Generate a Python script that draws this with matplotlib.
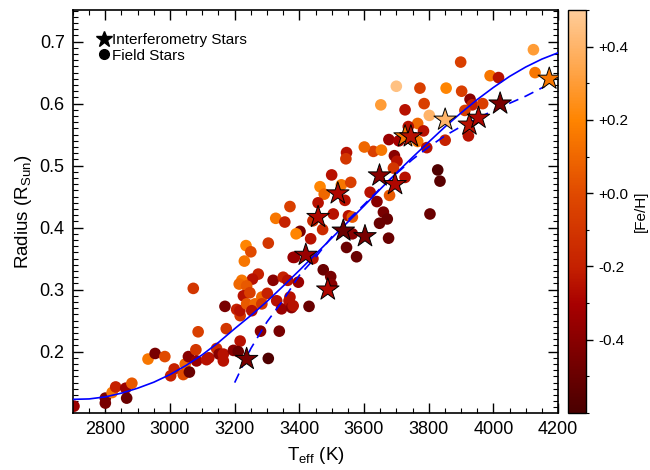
import matplotlib
matplotlib.use("Agg")
import matplotlib.pyplot as plt
import numpy as np
from matplotlib.colors import LinearSegmentedColormap, Normalize
from matplotlib.ticker import MultipleLocator
from matplotlib.lines import Line2D

plt.rcParams['font.family'] = ['Liberation Sans', 'DejaVu Sans']
plt.rcParams['mathtext.fontset'] = 'custom'
plt.rcParams['mathtext.rm'] = 'Liberation Sans'
plt.rcParams['mathtext.it'] = 'Liberation Sans'

# ---------------- data ----------------
field_teff = [2703, 2800, 2800, 2821, 2832, 2863, 2866, 2882, 2932, 2954,
              2984, 3002, 3013, 3041, 3047, 3057, 3060, 3080, 3082, 3087,
              3113, 3120, 3144, 3152, 3072, 3174, 3170, 3304, 3280, 3338,
              3304, 3235, 3250, 3230, 3371, 3327, 3355, 3402, 3390, 3381,
              3273, 3255, 3222, 3214, 3237, 3319, 3350, 3364, 3397, 3227,
              3247, 3284, 3301, 3206, 3217, 3216, 3237, 3263, 3253, 3284,
              3330, 3345, 3368, 3376, 3430, 3217, 3165, 3196, 3211, 3165,
              3546, 3544, 3500, 3464, 3477, 3530, 3559, 3458, 3505, 3442,
              3435, 3472, 3552, 3564, 3564, 3546, 3577, 3442, 3474, 3497,
              3500, 3371, 3381, 3619, 3640, 3660, 3648, 3672, 3676,
              3899, 3700, 3773, 3854, 3902, 3652, 3727, 3786, 3802, 3928,
              3935, 3766, 3737, 3784, 3677, 3708, 3766, 3794, 3851, 3629,
              3654, 3694, 3702, 3691, 3727, 3679, 3804, 3828, 3835, 3601,
              4124, 4129, 3990, 4016, 3967, 3912, 3923, 3541, 3385]
field_radius = [0.112, 0.125, 0.117, 0.134, 0.143, 0.141, 0.125, 0.149, 0.188, 0.197,
                0.192, 0.161, 0.172, 0.163, 0.180, 0.192, 0.167, 0.203, 0.185, 0.232,
                0.187, 0.190, 0.205, 0.196, 0.302, 0.237, 0.273, 0.189, 0.233, 0.233,
                0.375, 0.371, 0.361, 0.346, 0.434, 0.415, 0.409, 0.394, 0.390, 0.352,
                0.325, 0.317, 0.315, 0.309, 0.306, 0.315, 0.320, 0.315, 0.312, 0.290,
                0.295, 0.288, 0.294, 0.268, 0.258, 0.266, 0.277, 0.277, 0.266, 0.277,
                0.282, 0.269, 0.282, 0.271, 0.273, 0.217, 0.196, 0.202, 0.200, 0.185,
                0.521, 0.511, 0.485, 0.466, 0.454, 0.469, 0.473, 0.440, 0.422, 0.411,
                0.382, 0.397, 0.419, 0.417, 0.390, 0.368, 0.353, 0.350, 0.332, 0.321,
                0.308, 0.288, 0.274, 0.457, 0.442, 0.425, 0.407, 0.414, 0.383,
                0.667, 0.628, 0.625, 0.625, 0.620, 0.598, 0.590, 0.600, 0.581, 0.607,
                0.598, 0.568, 0.563, 0.556, 0.542, 0.540, 0.539, 0.529, 0.541, 0.523,
                0.525, 0.516, 0.507, 0.496, 0.481, 0.452, 0.422, 0.493, 0.475, 0.530,
                0.687, 0.650, 0.645, 0.642, 0.600, 0.589, 0.548, 0.444, 0.352]
field_feh = [-0.35, -0.45, -0.45, 0.15, -0.20, -0.35, -0.50, 0.05, 0.15, -0.45,
             0.00, -0.20, -0.20, 0.00, 0.10, -0.40, -0.50, -0.10, -0.35, -0.05,
             -0.25, -0.25, -0.15, -0.40, -0.10, -0.10, -0.45, -0.58, -0.40, -0.45,
             -0.10, 0.20, 0.00, 0.15, -0.05, 0.15, -0.20, -0.45, 0.20, -0.35,
             -0.20, -0.25, 0.15, 0.10, 0.05, -0.40, -0.20, -0.25, -0.35, -0.25,
             -0.05, 0.10, -0.20, -0.20, -0.10, -0.25, 0.05, 0.10, -0.25, -0.10,
             -0.25, -0.35, -0.25, -0.40, -0.50, -0.25, -0.25, -0.40, -0.50, -0.25,
             -0.25, -0.10, -0.25, 0.20, 0.10, 0.15, -0.05, -0.25, -0.25, -0.15,
             -0.25, -0.15, -0.25, 0.05, -0.40, -0.50, -0.50, -0.25, -0.50, -0.45,
             -0.40, -0.25, -0.25, -0.25, -0.40, -0.45, -0.50, -0.50, -0.50,
             -0.05, 0.45, -0.05, 0.20, -0.05, 0.30, -0.25, -0.05, 0.40, -0.40,
             -0.20, 0.10, -0.25, -0.25, -0.35, -0.30, 0.15, -0.25, -0.20, -0.05,
             0.15, -0.40, -0.25, -0.10, -0.25, 0.05, -0.50, -0.58, -0.55, 0.10,
             0.30, 0.15, 0.15, -0.25, -0.05, -0.05, -0.25, -0.25, -0.35]

interf_teff = [3237, 3420, 3458, 3488, 3519, 3536, 3603, 3648, 3696, 3727,
               3745, 3851, 3926, 3954, 4021, 4173]
interf_radius = [0.188, 0.356, 0.417, 0.300, 0.455, 0.395, 0.386, 0.484, 0.470, 0.547,
                 0.547, 0.574, 0.566, 0.577, 0.600, 0.640]
interf_feh = [-0.45, -0.35, -0.28, -0.28, -0.28, -0.50, -0.45, -0.40, -0.28, 0.15,
              -0.25, 0.40, -0.25, -0.28, -0.45, 0.15]

fit_teff = [2700, 2750, 2800, 2850, 2900, 2950, 3000, 3050, 3100, 3150,
            3200, 3250, 3300, 3350, 3400, 3450, 3500, 3550, 3600, 3650,
            3700, 3750, 3800, 3850, 3900, 3950, 4000, 4050, 4100, 4150, 4200]
fit_radius = [0.123, 0.1237, 0.127, 0.133, 0.141, 0.1507, 0.163, 0.1778, 0.195, 0.2148,
              0.237, 0.2583, 0.281, 0.3057, 0.331, 0.357, 0.383, 0.409, 0.435, 0.4619,
              0.488, 0.5134, 0.538, 0.5623, 0.585, 0.6065, 0.626, 0.6438, 0.659, 0.6718, 0.682]

dash_teff = [3200, 3250, 3300, 3350, 3400, 3450, 3500, 3550, 3600, 3650,
             3700, 3750, 3800, 3850, 3900, 4000, 4100, 4160]
dash_radius = [0.150, 0.205, 0.248, 0.283, 0.323, 0.352, 0.385, 0.412, 0.437, 0.463,
               0.487, 0.510, 0.530, 0.548, 0.563, 0.589, 0.612, 0.628]

cbar_ticks = [-0.4, -0.2, 0.0, 0.2, 0.4]
cbar_labels = ['-0.4', '-0.2', '+0.0', '+0.2', '+0.4']

# ---------------- style ----------------
cmap = LinearSegmentedColormap.from_list(
    'feh',
    [(0.0, '#4a0000'), (0.18, '#880000'), (0.27, '#a80000'), (0.36, '#c42000'),
     (0.545, '#e04a00'), (0.727, '#ff8400'), (0.864, '#ffa850'), (1.0, '#ffcc99')])
norm = Normalize(vmin=-0.6, vmax=0.5)

fig = plt.figure(figsize=(6.5, 4.7), dpi=100)
ax = fig.add_axes([73/650, 57/470, 485/650, 403/470])
cax = fig.add_axes([568/650, 57/470, 18/650, 403/470])

ax.scatter(field_teff, field_radius, c=field_feh, cmap=cmap, norm=norm,
           s=70, edgecolors='none', zorder=2)
ax.plot(fit_teff, fit_radius, color='#0000ff', lw=1.2, zorder=3)
ax.plot(dash_teff, dash_radius, color='#0000ff', lw=1.2, ls=(0, (6, 4)), zorder=3)
sc = ax.scatter(interf_teff, interf_radius, c=interf_feh, cmap=cmap, norm=norm,
                s=290, marker='*', edgecolors='black', linewidths=0.7, zorder=4)

ax.set_xlim(2700, 4200)
ax.set_ylim(0.101, 0.751)
ax.xaxis.set_major_locator(MultipleLocator(200))
ax.xaxis.set_minor_locator(MultipleLocator(50))
ax.yaxis.set_minor_locator(MultipleLocator(0.01))
ax.set_yticks([0.2, 0.3, 0.4, 0.5, 0.6, 0.7])
ax.set_yticklabels(['0.2', '0.3', '0.4', '0.5', '0.6', '0.7'])
ax.tick_params(which='both', direction='in', top=True, right=True, labelsize=13,
               colors='black', pad=6)
ax.tick_params(which='major', length=7, width=1)
ax.tick_params(which='minor', length=3.5, width=0.8)
for s in ax.spines.values():
    s.set_linewidth(1.2)

ax.set_xlabel('T$_{\\rm eff}$ (K)', fontsize=13.5, labelpad=5)
ax.set_ylabel('Radius (R$_{\\rm Sun}$)', fontsize=13.5, labelpad=4)

handles = [Line2D([], [], marker='*', color='black', ls='none', markersize=12),
           Line2D([], [], marker='o', color='black', ls='none', markersize=7)]
ax.legend(handles, ['Interferometry Stars', 'Field Stars'], loc='upper left',
          frameon=False, fontsize=11, handletextpad=0.05, handlelength=1.0,
          borderaxespad=0.9, labelspacing=0.12, borderpad=0.6)

cb = fig.colorbar(sc, cax=cax, ticks=cbar_ticks)
cb.ax.set_yticklabels(cbar_labels)
cb.ax.yaxis.set_minor_locator(MultipleLocator(0.1))
cb.ax.tick_params(which='major', length=5, width=1, labelsize=11, pad=4)
cb.ax.tick_params(which='minor', length=2.5, width=0.8)
cb.outline.set_linewidth(1.0)
cb.set_label('[Fe/H]', fontsize=11, labelpad=4)

fig.savefig('out.png', dpi=100)
